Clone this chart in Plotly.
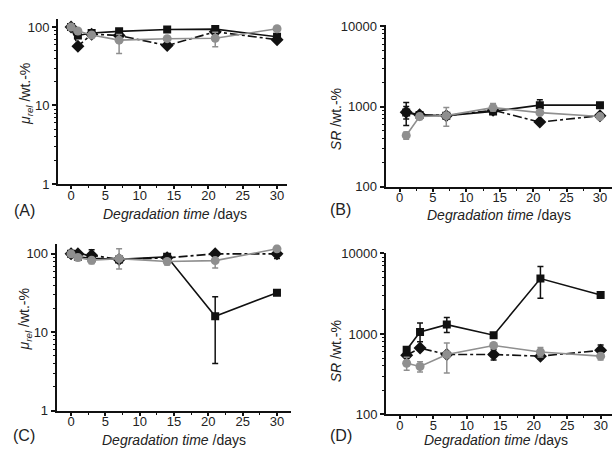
import plotly.graph_objects as go

# ---------------- data ----------------
days_AC = [0, 1, 3, 7, 14, 21, 30]
days_BD = [1, 3, 7, 14, 21, 30]

# Panel A: mu_rel (wt.-%)
A_sq = [100, 78, 84, 88, 93, 94, 75]
A_sq_up = [0, 0, 0, 4, 0, 0, 0]
A_sq_dn = [0, 0, 0, 4, 0, 0, 10]
A_di = [100, 57, 81, 78, 58, 87, 69]
A_di_up = [0, 0, 0, 0, 0, 0, 0]
A_di_dn = [0, 0, 0, 0, 0, 0, 0]
A_ci = [100, 89, 79, 68, 71, 72, 95]
A_ci_up = [0, 0, 0, 12, 0, 14, 0]
A_ci_dn = [0, 0, 0, 22, 0, 16, 0]

# Panel B: SR (wt.-%)
B_sq = [840, 785, 770, 870, 1040, 1040]
B_sq_up = [280, 40, 0, 0, 175, 0]
B_sq_dn = [260, 40, 0, 0, 0, 0]
B_di = [850, 790, 770, 900, 640, 770]
B_di_up = [150, 0, 0, 0, 0, 0]
B_di_dn = [150, 0, 0, 0, 0, 0]
B_ci = [437, 750, 770, 970, 840, 750]
B_ci_up = [45, 60, 200, 120, 0, 0]
B_ci_dn = [45, 60, 200, 90, 0, 0]

# Panel C: mu_rel (wt.-%)
C_sq = [100, 92, 88, 85, 92, 16, 32]
C_sq_up = [0, 0, 0, 0, 8, 12.4, 0]
C_sq_dn = [0, 0, 0, 0, 0, 12, 0]
C_di = [100, 100, 96, 85, 89, 100, 100]
C_di_up = [0, 0, 17, 0, 0, 0, 0]
C_di_dn = [0, 0, 0, 0, 0, 0, 13]
C_ci = [100, 90, 83, 87, 80, 82, 116]
C_ci_up = [0, 0, 0, 29, 0, 0, 0]
C_ci_dn = [0, 8, 8, 23, 8, 16, 0]

# Panel D: SR (wt.-%)
D_sq = [637, 1057, 1306, 964, 4875, 3048]
D_sq_up = [0, 311, 294, 40, 1995, 0]
D_sq_dn = [0, 255, 266, 40, 2095, 0]
D_di = [545, 667, 555, 555, 530, 625]
D_di_up = [0, 0, 0, 80, 40, 106]
D_di_dn = [0, 0, 0, 80, 40, 0]
D_ci = [433, 394, 555, 718, 597, 530]
D_ci_up = [80, 58, 218, 0, 80, 40]
D_ci_dn = [80, 58, 227, 0, 80, 56]

x_ticks = [0, 5, 10, 15, 20, 25, 30]
panel_labels = ["(A)", "(B)", "(C)", "(D)"]

# ---------------- styling ----------------
BLACK = "#111111"
GRAY = "#8f8f8f"
FONT = "Liberation Sans, Arial, sans-serif"

fig = go.Figure()


def add_series(xa, ya, x, y, up, dn, color, symbol, dash, size):
    fig.add_trace(go.Scatter(
        x=x, y=y, xaxis=xa, yaxis=ya, mode="lines+markers",
        line=dict(color=color, width=1.6, dash=dash),
        marker=dict(symbol=symbol, size=size, color=color),
        error_y=dict(type="data", symmetric=False, array=up, arrayminus=dn,
                     color=color, thickness=1.5, width=3),
        showlegend=False,
    ))


panels = [
    ("x", "y", days_AC, (A_sq, A_sq_up, A_sq_dn), (A_di, A_di_up, A_di_dn), (A_ci, A_ci_up, A_ci_dn)),
    ("x2", "y2", days_BD, (B_sq, B_sq_up, B_sq_dn), (B_di, B_di_up, B_di_dn), (B_ci, B_ci_up, B_ci_dn)),
    ("x3", "y3", days_AC, (C_sq, C_sq_up, C_sq_dn), (C_di, C_di_up, C_di_dn), (C_ci, C_ci_up, C_ci_dn)),
    ("x4", "y4", days_BD, (D_sq, D_sq_up, D_sq_dn), (D_di, D_di_up, D_di_dn), (D_ci, D_ci_up, D_ci_dn)),
]

for xa, ya, xs, sq, di, ci in panels:
    add_series(xa, ya, xs, di[0], di[1], di[2], BLACK, "diamond", "dashdot", 10)
    add_series(xa, ya, xs, sq[0], sq[1], sq[2], BLACK, "square", "solid", 8)
    add_series(xa, ya, xs, ci[0], ci[1], ci[2], GRAY, "circle", "solid", 9)

W, H = 612, 456


def px(xp):
    return xp / W


def py(yp):
    return 1 - yp / H


tickfont = dict(family=FONT, size=13, color="#222222")


def xaxis(dom, rng, anchor):
    return dict(domain=dom, range=rng, anchor=anchor, tickvals=x_ticks,
                showline=True, linecolor=BLACK, linewidth=2, ticks="outside",
                ticklen=3, tickwidth=1.5, tickcolor=BLACK, showgrid=False,
                zeroline=False, tickfont=tickfont, ticklabelstandoff=-5,
                minor=dict(ticks="outside", ticklen=2, tickwidth=1.2, dtick=2.5,
                           tickcolor=BLACK, showgrid=False))


def yaxis(dom, rng, anchor, tv):
    return dict(domain=dom, range=rng, anchor=anchor, type="log", tickvals=tv,
                ticktext=[str(v) for v in tv],
                showline=True, linecolor=BLACK, linewidth=2, ticks="outside",
                ticklen=4, tickwidth=1.5, tickcolor=BLACK, showgrid=False,
                zeroline=False, tickfont=tickfont,
                minor=dict(ticks="outside", ticklen=2, tickwidth=1, dtick="D1",
                           tickcolor=BLACK, showgrid=False))


fig.update_layout(
    width=W, height=H, margin=dict(l=0, r=0, t=0, b=0),
    paper_bgcolor="white", plot_bgcolor="white",
    font=dict(family=FONT, color="#222222"),
    xaxis=xaxis([px(58), px(287)], [-1.9, 31.45], "y"),
    yaxis=yaxis([py(183), py(12)], [0, 2.107], "x", [1, 10, 100]),
    xaxis2=xaxis([px(385.5), px(612)], [-2.1, 31.8], "y2"),
    yaxis2=yaxis([py(186), py(19)], [2, 4.01], "x2", [100, 1000, 10000]),
    xaxis3=xaxis([px(56.7), px(290.7)], [-2.09, 32.0], "y3"),
    yaxis3=yaxis([py(417.3), py(245.3)], [0, 2.123], "x3", [1, 10, 100]),
    xaxis4=xaxis([px(386), px(612)], [-2.09, 31.7], "y4"),
    yaxis4=yaxis([py(421.3), py(254)], [2, 4.01], "x4", [100, 1000, 10000]),
)

ann = []
xtitle = "<i>Degradation time</i> /days"
for (cx, cy) in [(175, 214), (499, 215), (174, 448), (496, 448)]:
    ann.append(dict(x=px(cx), y=py(cy), xref="paper", yref="paper", text=xtitle,
                    showarrow=False, font=dict(family=FONT, size=14, color="#222222"),
                    xanchor="center", yanchor="middle"))
mu_title = "<i>μ</i><sub><i>rel</i></sub> /wt.-%"
sr_title = "<i>SR</i> /wt.-%"
for (cx, cy, t) in [(26, 90, mu_title), (336, 116, sr_title), (25, 323, mu_title), (336, 356, sr_title)]:
    ann.append(dict(x=px(cx), y=py(cy), xref="paper", yref="paper", text=t,
                    textangle=-90, showarrow=False,
                    font=dict(family=FONT, size=14, color="#222222"),
                    xanchor="center", yanchor="middle"))
for (cx, cy), lab in zip([(24, 210), (340, 209), (24, 443), (341, 443)], panel_labels):
    ann.append(dict(x=px(cx), y=py(cy), xref="paper", yref="paper", text=lab,
                    showarrow=False, font=dict(family=FONT, size=16, color="#222222"),
                    xanchor="center", yanchor="middle"))
fig.update_layout(annotations=ann)

fig.write_html(
    "out.html",
    config={"displayModeBar": False},
    post_script="document.body.style.margin='0';document.body.style.padding='0';"
                "document.body.style.overflow='hidden';",
)
